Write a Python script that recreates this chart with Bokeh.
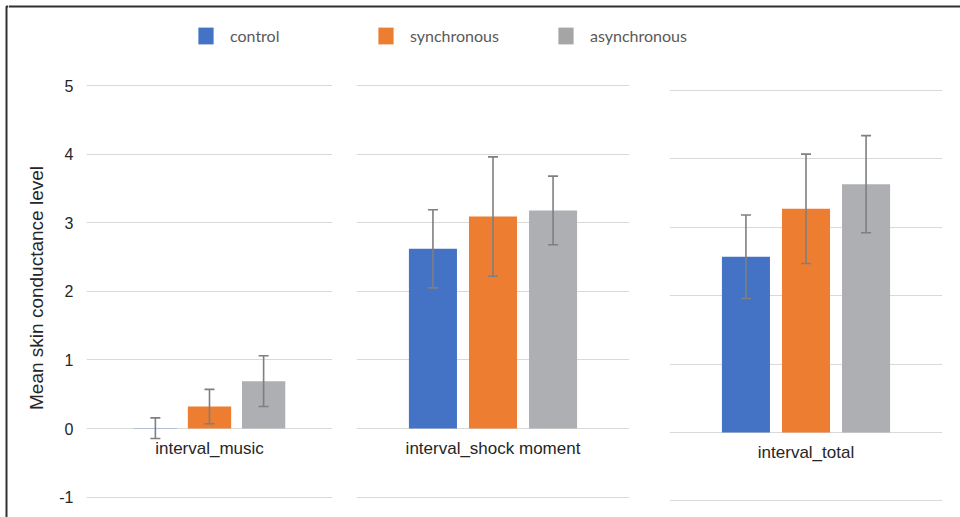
from bokeh.plotting import figure
from bokeh.models import ColumnDataSource, FactorRange, Range1d, Whisker, TeeHead, FixedTicker, Legend, LegendItem
from bokeh.transform import dodge
from bokeh.layouts import column, row
from bokeh.core.properties import value
from bokeh.embed import file_html
from bokeh.resources import INLINE

# ---- data ----
categories = ["interval_music", "interval_shock moment", "interval_total"]
series = ["control", "synchronous", "asynchronous"]
control = [0.005, 2.62, 2.57]
synchronous = [0.32, 3.09, 3.27]
asynchronous = [0.69, 3.18, 3.63]
control_err = [0.15, 0.57, 0.61]
synchronous_err = [0.25, 0.87, 0.80]
asynchronous_err = [0.37, 0.50, 0.71]
y_ticks = [-1, 0, 1, 2, 3, 4, 5]
y_label = "Mean skin conductance level"

means = [control, synchronous, asynchronous]
errs = [control_err, synchronous_err, asynchronous_err]
colors = ["#4472C4", "#ED7D31", "#AEAFB2"]
legend_colors = ["#4472C4", "#ED7D31", "#A5A5A5"]
offsets = [-0.22, 0.0, 0.22]
bar_width = 0.176
FRAME = "#303030"

# ---- layout geometry (figure width, left border, right border, y range) ----
panel_specs = [
    (336, 78, 12, (-1.297, 5.394)),
    (305, 12, 20, (-1.297, 5.394)),
    (311, 20, 18, (-1.243, 5.468)),
]
panel_height = 459

panels = []
for i, cat in enumerate(categories):
    w, bl, br, (y0, y1) = panel_specs[i]
    p = figure(width=w, height=panel_height, x_range=FactorRange(factors=[cat], range_padding=0),
               y_range=Range1d(y0, y1), output_backend="svg", toolbar_location=None,
               min_border_left=bl, min_border_right=br, min_border_top=0, min_border_bottom=0)
    p.outline_line_color = None
    p.xaxis.visible = False
    p.xgrid.grid_line_color = None
    p.ygrid.grid_line_color = "#D9D9D9"
    p.ygrid.grid_line_width = 1
    p.yaxis.ticker = FixedTicker(ticks=y_ticks)
    if i == 0:
        p.yaxis.axis_line_color = None
        p.yaxis.major_tick_line_color = None
        p.yaxis.minor_tick_line_color = None
        p.yaxis.major_label_overrides = {t: str(t) for t in y_ticks}
        p.yaxis.major_label_text_font = "Liberation Sans"
        p.yaxis.major_label_text_font_size = "16px"
        p.yaxis.major_label_text_color = "#262626"
        p.yaxis.major_label_standoff = 7
        p.yaxis.axis_label = y_label
        p.yaxis.axis_label_text_font = "Liberation Sans"
        p.yaxis.axis_label_text_font_size = "19px"
        p.yaxis.axis_label_text_font_style = "normal"
        p.yaxis.axis_label_text_color = "#262626"
        p.yaxis.axis_label_standoff = 9
    else:
        p.yaxis.visible = False

    for s, name in enumerate(series):
        m = means[s][i]
        e = errs[s][i]
        src = ColumnDataSource(dict(cat=[cat], top=[m], upper=[m + e], lower=[m - e]))
        p.vbar(x=dodge("cat", offsets[s], range=p.x_range), top="top", bottom=0, width=bar_width,
               source=src, fill_color=colors[s], line_color=None)
        wk = Whisker(base=dodge("cat", offsets[s], range=p.x_range), upper="upper", lower="lower",
                     source=src, line_color="#7F7F7F", line_width=1.6, level="annotation",
                     upper_head=TeeHead(size=10, line_color="#7F7F7F", line_width=1.6),
                     lower_head=TeeHead(size=10, line_color="#7F7F7F", line_width=1.6))
        p.add_layout(wk)

    lsrc = ColumnDataSource(dict(cat=[cat], y=[0], text=[cat]))
    p.text(x="cat", y="y", text="text", source=lsrc, text_align="center", text_baseline="middle",
           y_offset=20, text_font=value("Liberation Sans"), text_font_size="17px", text_color="#262626")
    panels.append(p)

# ---- legend figure (top strip, pixel-like ranges) ----
leg = figure(width=952, height=58, x_range=Range1d(8, 960), y_range=Range1d(58, 0),
             x_axis_type=None, y_axis_type=None, output_backend="svg", toolbar_location=None,
             min_border=0)
leg.outline_line_color = None
leg.xgrid.visible = False
leg.ygrid.visible = False
leg.line(x=[8, 960], y=[6, 6], line_color=FRAME, line_width=2)
items = []
for s, name in enumerate(series):
    r = leg.rect(x=[-100], y=[-100], width=1, height=1, fill_color=legend_colors[s], line_color=None)
    items.append(LegendItem(label=name, renderers=[r]))
legend = Legend(items=items, orientation="horizontal", location=(188, 12),
                glyph_width=19, glyph_height=21, label_standoff=15, spacing=18, label_width=128,
                padding=0, margin=0, border_line_alpha=0, background_fill_alpha=0,
                label_text_font="Lato", label_text_font_size="16px", label_text_color="#595959")
leg.add_layout(legend)

# ---- left strip carrying the frame line ----
strip = figure(width=8, height=517, x_range=Range1d(0, 8), y_range=Range1d(517, 0),
               x_axis_type=None, y_axis_type=None, output_backend="svg", toolbar_location=None,
               min_border=0)
strip.outline_line_color = None
strip.xgrid.visible = False
strip.ygrid.visible = False
strip.line(x=[6, 6, 8], y=[517, 6, 6], line_color=FRAME, line_width=2)

layout = row(strip, column(leg, row(*panels, spacing=0), spacing=0), spacing=0)

open("out.html", "w").write(file_html(layout, INLINE))
